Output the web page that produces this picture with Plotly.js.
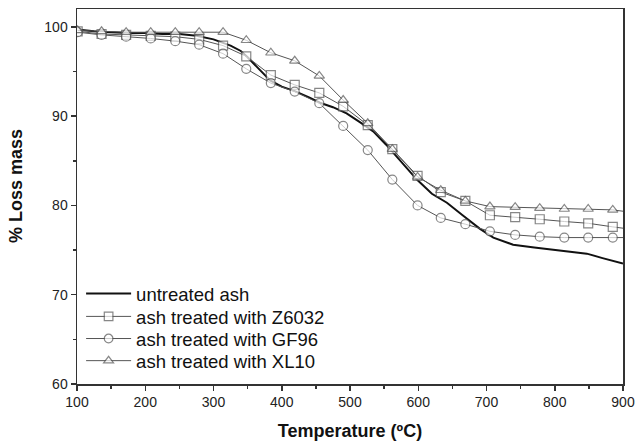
<!DOCTYPE html>
<html>
<head>
<meta charset="utf-8">
<script src="https://cdn.plot.ly/plotly-3.0.1.min.js"></script>
<style>html,body{margin:0;padding:0;background:#fff}#chart{width:637px;height:443px}</style>
</head>
<body>
<div id="chart"></div>
<script>
// untreated ash (no markers, dense line)
const untreatedT = [100,125,150,175,200,225,250,275,300,325,340,350,365,383,400,419,440,456,475,495,515,534,553,575,598,620,642,665,690,710,739,770,800,847,870,900];
const untreatedM = [99.7,99.5,99.4,99.3,99.3,99.2,99.2,99.0,98.6,97.9,97.3,96.6,95.4,94.0,93.3,92.8,92.1,91.5,91.0,90.3,89.3,88.3,86.8,84.9,82.9,81.3,80.3,78.9,77.4,76.4,75.6,75.3,75.0,74.6,74.1,73.5];

// marker temperatures (shared by the treated series), last point = line end
const markT = [101,136,172,208,244,279,314,348,384,419,455,490,526,562,599,633,669,705,742,778,814,849,885,900];
const z6032M = [99.5,99.2,99.1,99.0,98.9,98.6,97.9,96.7,94.6,93.5,92.6,91.1,89.0,86.3,83.3,81.5,80.5,78.9,78.7,78.45,78.2,78.0,77.6,77.45];
const gf96M  = [99.4,99.1,98.9,98.7,98.4,98.0,97.0,95.3,93.7,92.75,91.45,88.9,86.2,82.9,80.0,78.6,77.9,77.1,76.7,76.5,76.4,76.4,76.4,76.4];
const xl10M  = [99.6,99.5,99.4,99.4,99.4,99.4,99.4,98.5,97.1,96.2,94.5,91.8,89.2,86.3,83.2,81.7,80.5,79.87,79.8,79.7,79.6,79.6,79.5,79.35];

const names = ['untreated ash','ash treated with Z6032','ash treated with GF96','ash treated with XL10'];
const xTicks = [100,200,300,400,500,600,700,800,900];
const yTicks = [60,70,80,90,100];

const sizes = markT.map((t,i)=> i === markT.length-1 ? 0 : 9);
const grey = '#555';
function treated(y, sym, name, leg){
  return {x: markT, y: y, name: name, mode: 'lines+markers', type: 'scatter', legend: leg,
    line: {color: grey, width: 1},
    marker: {symbol: sym, size: sizes, color: '#fff', line: {color: grey, width: 1.2}}};
}
const traces = [
  {x: untreatedT, y: untreatedM, name: names[0], mode: 'lines', type: 'scatter', legend: 'legend', line: {color: '#111', width: 2}},
  treated(z6032M, 'square', names[1], 'legend2'),
  treated(gf96M, 'circle', names[2], 'legend3'),
  treated(xl10M, 'triangle-up', names[3], 'legend4')
];

const FONT = 'Liberation Sans, Arial, sans-serif';
function leg(yc){
  return {x: 0.0075, y: yc, xanchor: 'left', yanchor: 'middle', bgcolor: 'rgba(0,0,0,0)', itemwidth: 45,
    font: {family: FONT, size: 18.5, color: '#111'}};
}
const axisCommon = {
  showline: true, mirror: true, linecolor: '#333', linewidth: 1.5,
  ticks: 'outside', ticklen: 5, tickwidth: 1.5, tickcolor: '#333',
  showgrid: false, zeroline: false,
  tickfont: {family: FONT, size: 14, color: '#222'}
};
const layout = {
  width: 637, height: 443,
  margin: {l: 77, r: 14, t: 9, b: 59},
  paper_bgcolor: '#fff', plot_bgcolor: '#fff',
  showlegend: true,
  legend: leg(0.24), legend2: leg(0.179), legend3: leg(0.12), legend4: leg(0.061),
  xaxis: Object.assign({}, axisCommon, {
    range: [100, 900], tickvals: xTicks, ticktext: xTicks.map(String),
    minor: {ticks: 'outside', ticklen: 3, tickwidth: 1.5, tickcolor: '#333', dtick: 50, tick0: 100, showgrid: false},
    title: {text: 'Temperature (ºC)', standoff: 15, font: {family: FONT, size: 18, color: '#111', weight: 'bold'}}
  }),
  yaxis: Object.assign({}, axisCommon, {
    range: [60, 102], tickvals: yTicks, ticktext: yTicks.map(String),
    minor: {ticks: 'outside', ticklen: 3, tickwidth: 1.5, tickcolor: '#333', dtick: 5, tick0: 60, showgrid: false}
  }),
  annotations: [{
    text: '% Loss mass', textangle: -90, showarrow: false,
    xref: 'paper', yref: 'paper', x: -0.1117, y: 0.528, xanchor: 'center', yanchor: 'middle',
    font: {family: FONT, size: 18, color: '#111', weight: 'bold'}
  }]
};
Plotly.newPlot('chart', traces, layout, {displayModeBar: false, staticPlot: true});
</script>
</body>
</html>
